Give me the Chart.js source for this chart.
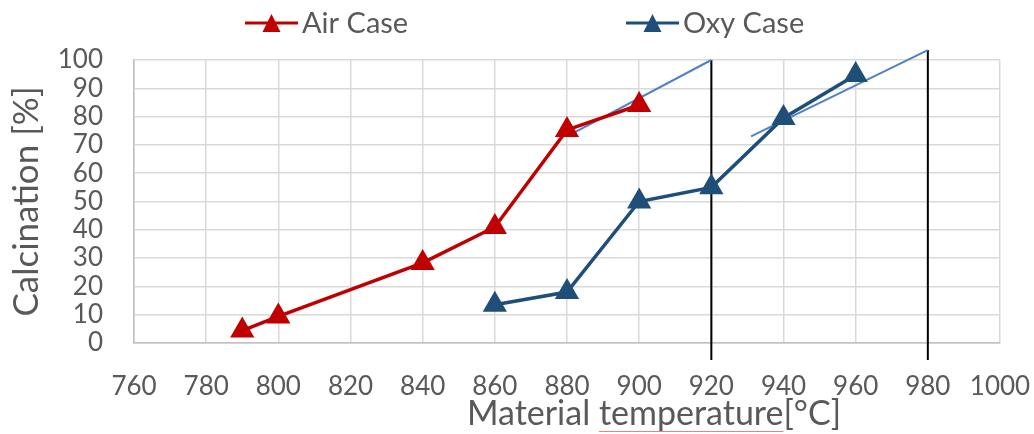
<!DOCTYPE html>
<html>
<head>
<meta charset="utf-8">
<script src="https://cdn.jsdelivr.net/npm/chart.js@4.4.1/dist/chart.umd.min.js"></script>
<style>
	html, body { margin: 0; padding: 0; background: #fff; }
	#wrap { width: 1034px; height: 434px; }
</style>
</head>
<body>
<div id="wrap"><canvas id="calcChart" width="1034" height="434"></canvas></div>
<script>
// values
const airTemp = [790, 800, 840, 860, 880, 900];
const airCalc = [4.4, 9.4, 28.3, 41, 75.3, 84.1];
const oxyTemp = [860, 880, 900, 920, 940, 960];
const oxyCalc = [13.5, 18, 50, 55, 79.5, 94.7];

// helper lines drawn on top
const trendAirX = [880, 920];
const trendAirY = [73, 100];
const trendOxyX = [931, 980];
const trendOxyY = [73, 103.5];
const markX = [920, 980];
const markTop = [100, 103.5];
const markBottom = -6;

const xTicks = [760, 780, 800, 820, 840, 860, 880, 900, 920, 940, 960, 980, 1000];
const yTicks = [0, 10, 20, 30, 40, 50, 60, 70, 80, 90, 100];

const FONT = "Lato, 'Open Sans', sans-serif";
const TEXT = '#595959';

const toPts = (xs, ys) => xs.map((x, i) => ({ x: x, y: ys[i] }));

const helperSet = (pts, color, width) => ({
	data: pts,
	borderColor: color,
	borderWidth: width,
	pointRadius: 0,
	pointHoverRadius: 0,
	clip: false
});

const customLegend = {
	id: 'customLegend',
	afterDraw(chart) {
		const ctx = chart.ctx;
		const items = [
			{ ds: chart.data.datasets[0], x: 245 },
			{ ds: chart.data.datasets[1], x: 626 }
		];
		ctx.save();
		for (const it of items) {
			const cy = 23;
			ctx.strokeStyle = it.ds.borderColor;
			ctx.lineWidth = 3;
			ctx.beginPath();
			ctx.moveTo(it.x, cy);
			ctx.lineTo(it.x + 53, cy);
			ctx.stroke();
			const cx = it.x + 26.5;
			ctx.fillStyle = it.ds.borderColor;
			ctx.beginPath();
			ctx.moveTo(cx, cy - 9);
			ctx.lineTo(cx + 9, cy + 9);
			ctx.lineTo(cx - 9, cy + 9);
			ctx.closePath();
			ctx.fill();
			ctx.fillStyle = TEXT;
			ctx.font = '29px ' + FONT;
			ctx.textBaseline = 'alphabetic';
			ctx.textAlign = 'left';
			ctx.fillText(it.ds.label, it.x + 57, 33);
		}

		// x axis title, placed right of centre like the original
		const t1 = 'Material ';
		const t2 = 'temperature';
		const t3 = '[°C]';
		ctx.font = '34px ' + FONT;
		const full = ctx.measureText(t1 + t2 + t3).width;
		const left = 654 - full / 2;
		ctx.fillStyle = TEXT;
		ctx.fillText(t1 + t2 + t3, left, 425);
		const w1 = ctx.measureText(t1).width;
		const w2 = ctx.measureText(t2).width;
		ctx.strokeStyle = '#f08080';
		ctx.lineWidth = 1;
		ctx.beginPath();
		ctx.moveTo(left + w1, 431.5);
		ctx.lineTo(left + w1 + w2, 431.5);
		ctx.stroke();
		ctx.restore();
	}
};

const calcChart = document.getElementById('calcChart');

new Chart(calcChart, {
	type: 'line',
	data: {
		datasets: [
			{
				label: 'Air Case',
				data: toPts(airTemp, airCalc),
				borderColor: '#c00000',
				backgroundColor: '#c00000',
				borderWidth: 3.5,
				pointStyle: 'triangle',
				pointRadius: 14,
				pointHoverRadius: 14,
				pointBorderWidth: 0
			},
			{
				label: 'Oxy Case',
				data: toPts(oxyTemp, oxyCalc),
				borderColor: '#1f4e79',
				backgroundColor: '#1f4e79',
				borderWidth: 3.5,
				pointStyle: 'triangle',
				pointRadius: 14,
				pointHoverRadius: 14,
				pointBorderWidth: 0
			},
			helperSet(toPts(trendAirX, trendAirY), '#4f81c4', 2),
			helperSet(toPts(trendOxyX, trendOxyY), '#4f81c4', 2),
			helperSet([{ x: markX[0], y: markBottom }, { x: markX[0], y: markTop[0] }], '#000000', 2),
			helperSet([{ x: markX[1], y: markBottom }, { x: markX[1], y: markTop[1] }], '#000000', 2)
		]
	},
	options: {
		responsive: false,
		animation: false,
		layout: {
			padding: { left: 0, right: 34, top: 60, bottom: 0 }
		},
		plugins: {
			legend: { display: false },
			tooltip: { enabled: false }
		},
		scales: {
			x: {
				type: 'linear',
				min: 760,
				max: 1000,
				afterBuildTicks: (scale) => { scale.ticks = xTicks.map(v => ({ value: v })); },
				afterFit: (scale) => {
					scale.height = 91;
					scale.paddingLeft = 0;
					scale.paddingRight = 0;
				},
				ticks: {
					autoSkip: false,
					maxRotation: 0,
					padding: 28,
					color: TEXT,
					font: { family: FONT, size: 26 },
					callback: (v) => String(v)
				},
				grid: { color: '#d9d9d9', lineWidth: 1.5, drawTicks: false },
				border: { color: '#bfbfbf', width: 1.5 }
			},
			y: {
				min: 0,
				max: 100,
				afterBuildTicks: (scale) => { scale.ticks = yTicks.map(v => ({ value: v })); },
				afterFit: (scale) => { scale.width = 134; },
				ticks: {
					autoSkip: false,
					padding: 31,
					color: TEXT,
					font: { family: FONT, size: 26 },
					callback: (v) => String(v)
				},
				title: {
					display: true,
					text: 'Calcination [%]',
					color: TEXT,
					font: { family: FONT, size: 35 },
					padding: { top: 6, bottom: 0 }
				},
				grid: { color: '#d9d9d9', lineWidth: 1.5, drawTicks: false },
				border: { color: '#bfbfbf', width: 1.5 }
			}
		}
	},
	plugins: [customLegend]
});
</script>
</body>
</html>
